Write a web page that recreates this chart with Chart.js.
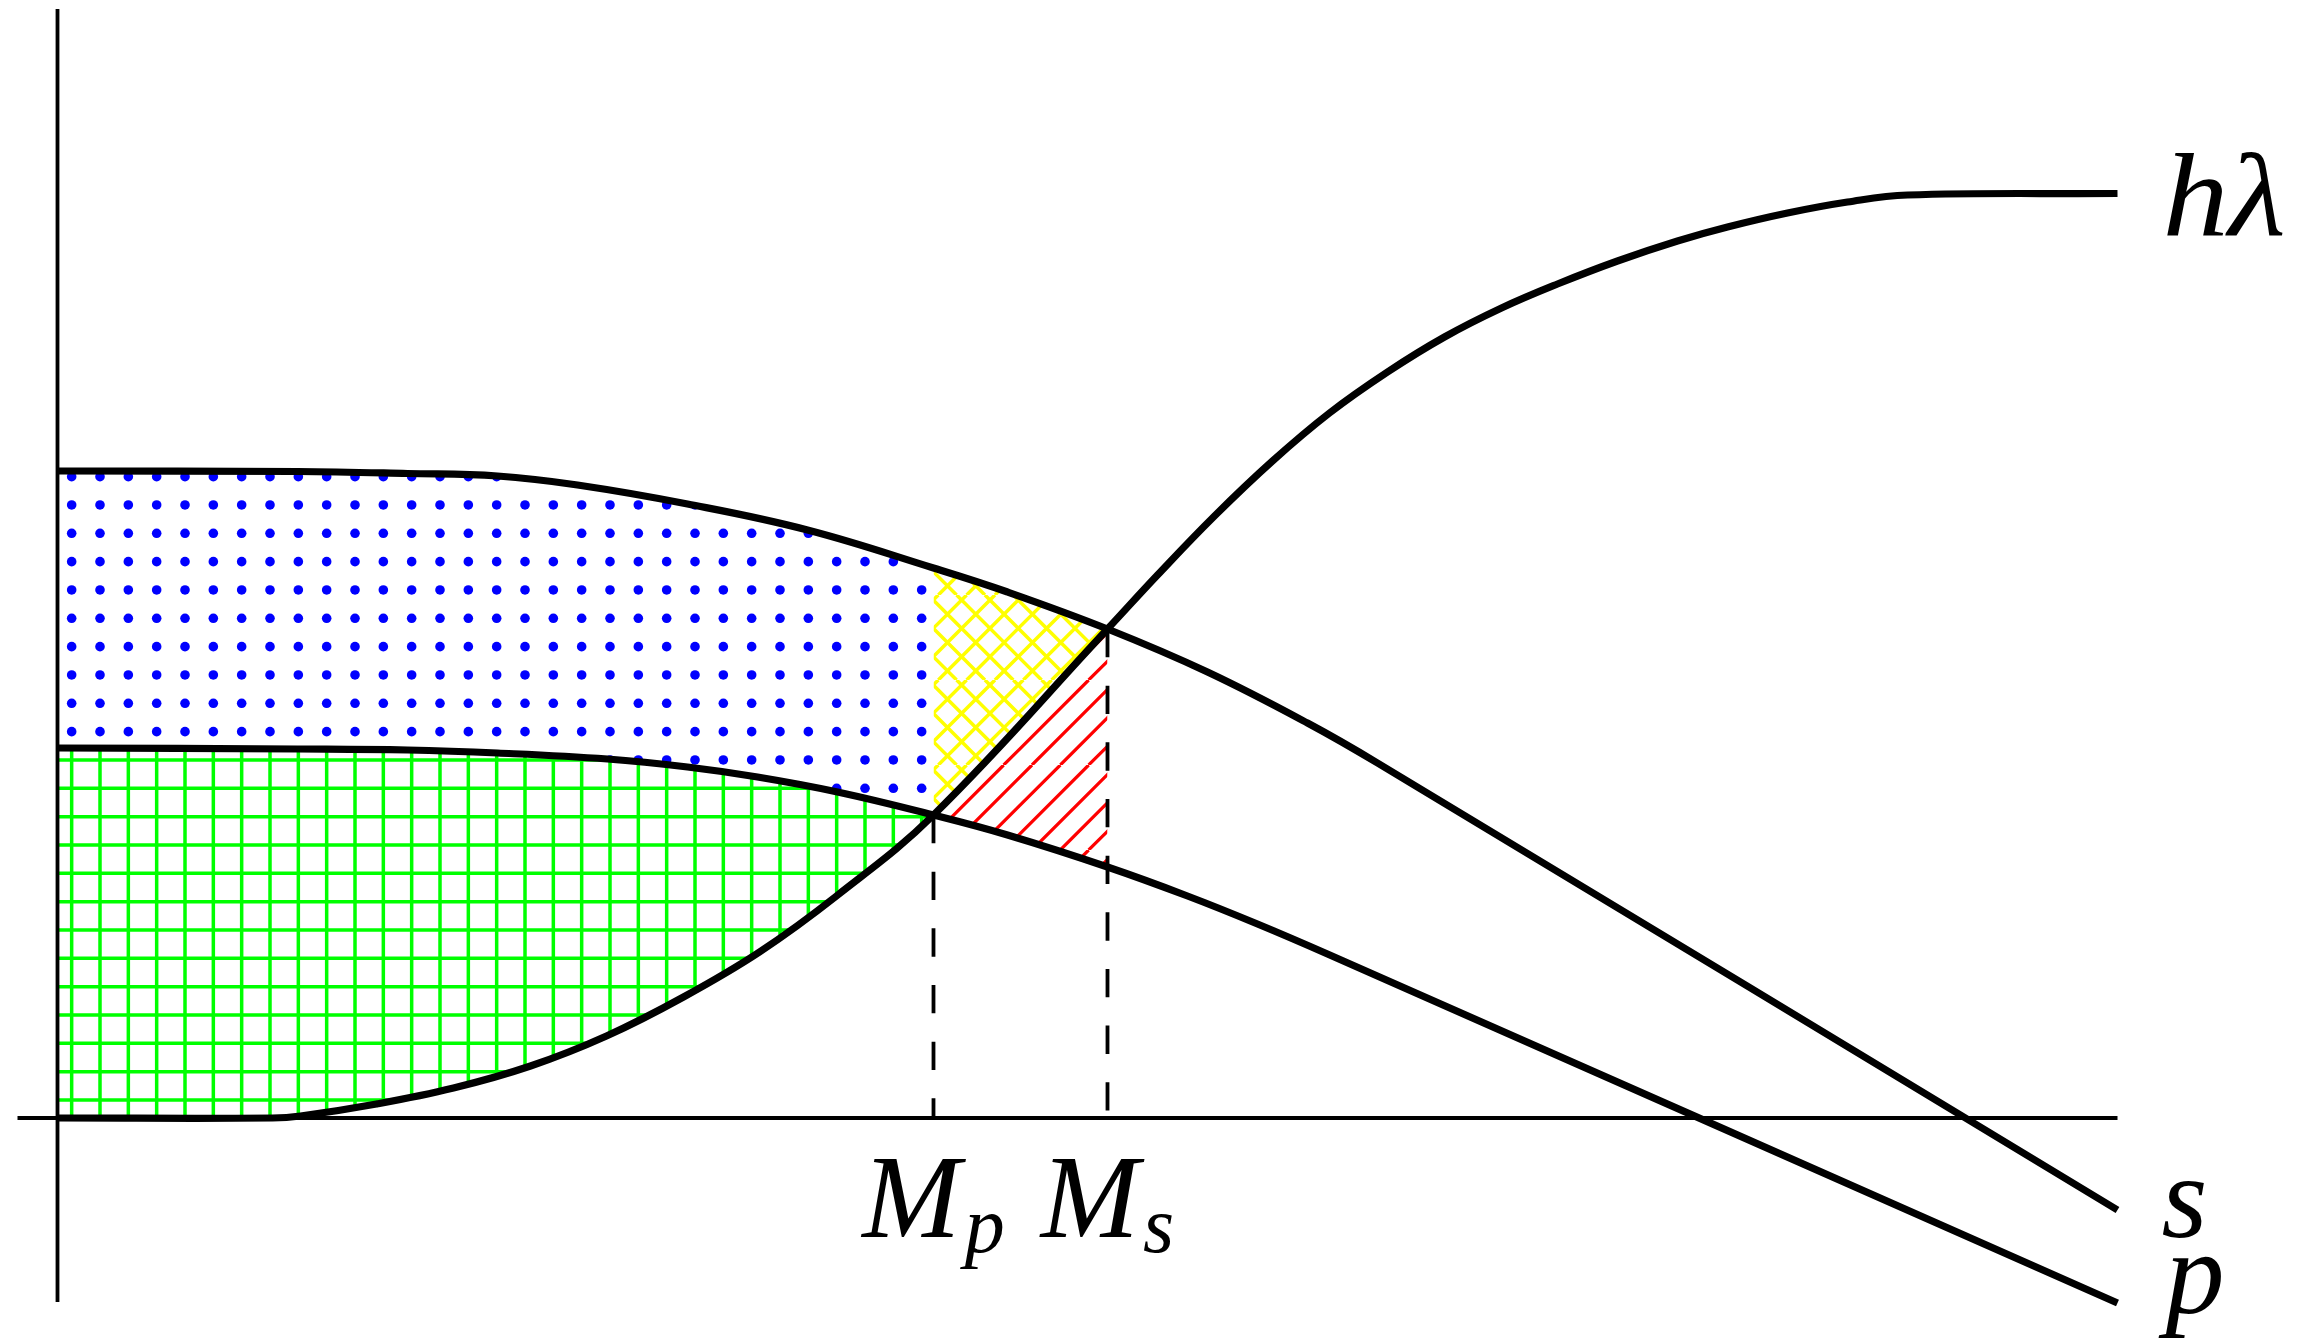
<!DOCTYPE html>
<html>
<head>
<meta charset="utf-8">
<script src="https://cdn.jsdelivr.net/npm/chart.js@4/dist/chart.umd.min.js"></script>
<style>
  html, body { margin: 0; padding: 0; background: #fff; }
  #wrap { width: 2316px; height: 1342px; }
</style>
</head>
<body>
<div id="wrap"><canvas id="chart" width="2316" height="1342"></canvas></div>
<script>
// curve h·lambda (rises from 0, flattens out on top)
const hX = [0, 2.15, 2.43, 3.19, 3.96, 4.73, 5.49, 6.26, 7.02, 7.79, 8.76, 10.5, 11.0, 11.57, 12.15, 12.72, 13.3, 13.87, 14.44, 15.0, 15.6, 16.2, 16.7, 17.3, 17.9, 18.5, 20.6];
const hY = [0, 0, 0.02, 0.14, 0.30, 0.52, 0.82, 1.21, 1.66, 2.22, 3.03, 4.89, 5.43, 6.02, 6.57, 7.05, 7.46, 7.81, 8.10, 8.34, 8.57, 8.77, 8.91, 9.05, 9.16, 9.23, 9.245];
// curve s
const sX = [0, 2.4, 3.5, 4.4, 5.2, 6.3, 7.5, 8.76, 9.5, 10.5, 11.5, 12.5, 13.2, 20.6];
const sY = [6.47, 6.465, 6.445, 6.42, 6.33, 6.14, 5.88, 5.50, 5.26, 4.89, 4.46, 3.95, 3.55, -0.92];
// curve p
const pX = [0, 2.4, 3.5, 4.4, 5.5, 6.3, 7.0, 7.8, 8.76, 9.5, 10.5, 11.3, 12.0, 12.7, 20.6];
const pY = [3.70, 3.69, 3.68, 3.65, 3.59, 3.51, 3.41, 3.26, 3.03, 2.83, 2.51, 2.22, 1.94, 1.64, -1.85];
// crossing points M_p and M_s
const markX = [8.76, 10.5];
const markY = [3.03, 4.89];
const markSubs = ['p', 's'];
const curveNames = ['hλ', 's', 'p'];
// axis extents
const axisXSpan = [-0.40, 20.6];
const axisYSpan = [-1.84, 11.09];

const pts = (xs, ys) => xs.map((x, i) => ({ x, y: ys[i] }));
const part = (xs, ys, lo, hi) => pts(xs, ys).filter(p => p.x >= lo - 1e-9 && p.x <= hi + 1e-9);

const ctx = document.getElementById('chart').getContext('2d');

// hatch patterns, tile = 3 periods of 28.33px
const T = 85, step = T / 3;
function tile(draw) {
    const c = document.createElement('canvas');
    c.width = T; c.height = T;
    draw(c.getContext('2d'));
    return ctx.createPattern(c, 'repeat');
}
const dots = tile(g => {
    g.fillStyle = '#0000ff';
    for (let i = 0; i < 3; i++)
        for (let j = 0; j < 3; j++) {
            g.beginPath();
            g.arc(15 + i * step, 23.3 + j * step, 4.8, 0, Math.PI * 2);
            g.fill();
        }
});
const grid = tile(g => {
    g.strokeStyle = '#00ff00';
    g.lineWidth = 3.5;
    g.beginPath();
    for (let i = 0; i < 3; i++) {
        g.moveTo(15 + i * step, 0); g.lineTo(15 + i * step, T);
        g.moveTo(0, 23.3 + i * step); g.lineTo(T, 23.3 + i * step);
    }
    g.stroke();
});
function diag(g, c0, dir) {
    g.beginPath();
    for (let k = -8; k <= 8; k++) {
        const c = c0 + k * step;
        if (dir > 0) { g.moveTo(c, 0); g.lineTo(c - T, T); }   // x + y = c
        else { g.moveTo(c, 0); g.lineTo(c + T, T); }          // x - y = c
    }
    g.stroke();
}
const cross = tile(g => {
    g.strokeStyle = '#ffff00';
    g.lineWidth = 3.5;
    diag(g, 3.3, 1);
    diag(g, 21.6, -1);
});
const neLines = tile(g => {
    g.strokeStyle = '#ff0000';
    g.lineWidth = 3.2;
    diag(g, 12, 1);
});

const curve = (data) => ({
    data, borderColor: '#000', borderWidth: 7.2, fill: false, order: 0,
    tension: 0.4, pointRadius: 0
});
const straight = (data, width, dash) => ({
    data, borderColor: '#000', borderWidth: width, borderDash: dash || [], fill: false,
    order: 0, tension: 0, pointRadius: 0
});
const region = (data, target, pattern) => ({
    data, borderColor: 'rgba(0,0,0,0)', borderWidth: 0, backgroundColor: pattern,
    fill: target === null ? false : target, order: 1,
    tension: 0.4, pointRadius: 0
});

const Mp = markX[0], Ms = markX[1];
const datasets = [
    curve(pts(hX, hY)),                                            // 0
    curve(pts(sX, sY)),                                            // 1
    curve(pts(pX, pY)),                                            // 2
    straight([{ x: axisXSpan[0], y: 0 }, { x: axisXSpan[1], y: 0 }], 3.8),  // 3
    straight([{ x: 0, y: axisYSpan[0] }, { x: 0, y: axisYSpan[1] }], 3.8),  // 4
    straight([{ x: Mp, y: markY[0] }, { x: Mp, y: 0 }], 3.8, [28.33, 28.33]), // 5
    straight([{ x: Ms, y: markY[1] }, { x: Ms, y: 0 }], 3.8, [28.33, 28.33]), // 6
    region(part(sX, sY, 0, Mp), 8, dots),                          // 7 blue: s..p
    region(part(pX, pY, 0, Mp), 9, grid),                          // 8 green: p..h
    region(part(hX, hY, 0, Mp), null, null),                       // 9
    region(part(sX, sY, Mp, Ms), 11, cross),                       // 10 yellow: s..h
    region(part(hX, hY, Mp, Ms), 12, neLines),                     // 11 red: h..p
    region(part(pX, pY, Mp, Ms), null, null)                       // 12
];

const MAIN = 118, SUB = 80;
const labelPlugin = {
    id: 'labels',
    afterDatasetsDraw(chart) {
        const { ctx, scales: { x, y } } = chart;
        const fMain = `italic ${MAIN}px "Liberation Serif"`;
        const fSub = `italic ${SUB}px "Liberation Serif"`;
        ctx.save();
        ctx.fillStyle = '#000';
        ctx.textBaseline = 'alphabetic';
        ctx.textAlign = 'left';
        markSubs.forEach((sub, i) => {
            ctx.font = fMain;
            const wM = ctx.measureText('M').width;
            ctx.font = fSub;
            const wS = ctx.measureText(sub).width;
            const left = x.getPixelForValue(markX[i]) - (wM + wS + 4) / 2;
            const base = y.getPixelForValue(0) + 119;
            ctx.font = fMain;
            ctx.fillText('M', left, base);
            ctx.font = fSub;
            ctx.fillText(sub, left + wM + 4, base + 15);
        });
        const ends = [[hX, hY, 45, 41], [sX, sY, 44, 27], [pX, pY, 48, 10]];
        ctx.font = fMain;
        curveNames.forEach((name, i) => {
            const [xs, ys, dx, dy] = ends[i];
            const n = xs.length - 1;
            const px = x.getPixelForValue(xs[n]) + dx, py = y.getPixelForValue(ys[n]) + dy;
            ctx.save();
            ctx.translate(px, py);
            ctx.scale(i === 0 ? 1.12 : 1, 1);
            ctx.fillText(name, 0, 0);
            ctx.restore();
        });
        ctx.restore();
    }
};

new Chart(ctx, {
    type: 'line',
    data: { datasets },
    options: {
        responsive: false,
        animation: false,
        layout: { padding: 0 },
        plugins: { legend: { display: false }, tooltip: { enabled: false } },
        scales: {
            x: { type: 'linear', min: -0.575, max: 22.585, display: false },
            y: { type: 'linear', min: -2.24, max: 11.18, display: false }
        }
    },
    plugins: [labelPlugin]
});
</script>
</body>
</html>
